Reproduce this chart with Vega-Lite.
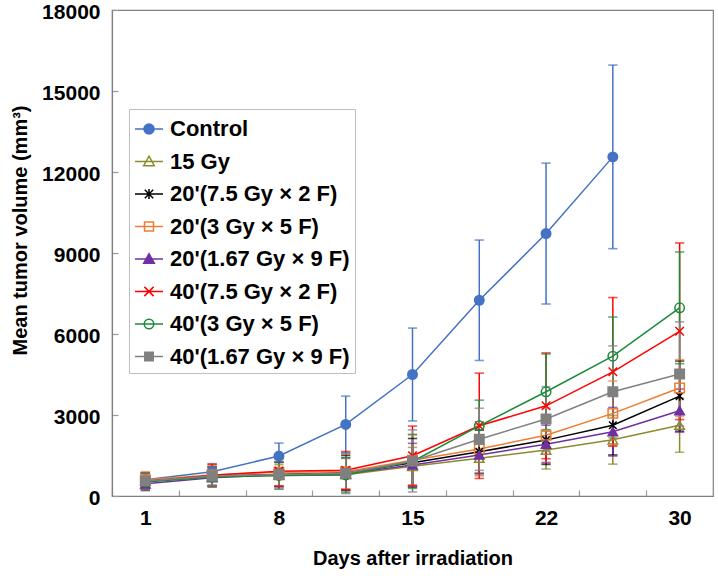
{
  "$schema": "https://vega.github.io/schema/vega-lite/v6.json",
  "width": 601,
  "height": 486,
  "autosize": {"type": "none"},
  "padding": {"left": 112, "top": 10, "right": 5, "bottom": 83},
  "background": "white",
  "config": {
    "view": {"stroke": "#808080", "strokeWidth": 1.2},
    "font": "Liberation Sans",
    "axis": {
      "domainColor": "#808080",
      "domainWidth": 1.2,
      "tickColor": "#9a9a9a",
      "tickWidth": 1.2,
      "tickSize": -6,
      "grid": false,
      "labelFont": "Liberation Sans",
      "labelFontWeight": "bold",
      "labelFontSize": 21,
      "labelColor": "#000000",
      "titleFont": "Liberation Sans",
      "titleFontWeight": "bold",
      "titleFontSize": 20,
      "titleColor": "#000000"
    },
    "legend": {
      "title": null,
      "orient": "none",
      "legendX": 17,
      "legendY": 99,
      "padding": 5,
      "rowPadding": 6.5,
      "labelOffset": 6,
      "labelFont": "Liberation Sans",
      "labelFontSize": 22,
      "labelFontWeight": "bold",
      "labelColor": "#000000",
      "labelLimit": 400,
      "symbolSize": 784,
      "symbolStrokeWidth": 1.5,
      "symbolOpacity": 1,
      "strokeColor": "#BFBFBF",
      "fillColor": "#FFFFFF"
    }
  },
  "data": {
    "values": [
      {"series": "Control", "day": "1", "v": 600, "lo": 350, "hi": 850},
      {"series": "Control", "day": "4", "v": 900, "lo": 600, "hi": 1200},
      {"series": "Control", "day": "8", "v": 1480, "lo": 1000, "hi": 1960},
      {"series": "Control", "day": "11", "v": 2650, "lo": 1600, "hi": 3700},
      {"series": "Control", "day": "15", "v": 4500, "lo": 2780, "hi": 6220},
      {"series": "Control", "day": "18", "v": 7250, "lo": 5020, "hi": 9480},
      {"series": "Control", "day": "22", "v": 9720, "lo": 7110, "hi": 12330},
      {"series": "Control", "day": "26", "v": 12560, "lo": 9160, "hi": 15960},

      {"series": "15 Gy", "day": "1", "v": 550, "lo": 250, "hi": 850},
      {"series": "15 Gy", "day": "4", "v": 720, "lo": 370, "hi": 1070},
      {"series": "15 Gy", "day": "8", "v": 760, "lo": 360, "hi": 1160},
      {"series": "15 Gy", "day": "11", "v": 790, "lo": 190, "hi": 1390},
      {"series": "15 Gy", "day": "15", "v": 1100, "lo": 400, "hi": 1800},
      {"series": "15 Gy", "day": "18", "v": 1400, "lo": 750, "hi": 2050},
      {"series": "15 Gy", "day": "22", "v": 1700, "lo": 1000, "hi": 2400},
      {"series": "15 Gy", "day": "26", "v": 2080, "lo": 1180, "hi": 2980},
      {"series": "15 Gy", "day": "30", "v": 2620, "lo": 1620, "hi": 3620},

      {"series": "20'(7.5 Gy × 2 F)", "day": "1", "v": 560, "lo": 260, "hi": 860},
      {"series": "20'(7.5 Gy × 2 F)", "day": "4", "v": 740, "lo": 390, "hi": 1090},
      {"series": "20'(7.5 Gy × 2 F)", "day": "8", "v": 800, "lo": 350, "hi": 1250},
      {"series": "20'(7.5 Gy × 2 F)", "day": "11", "v": 860, "lo": 210, "hi": 1510},
      {"series": "20'(7.5 Gy × 2 F)", "day": "15", "v": 1230, "lo": 330, "hi": 2130},
      {"series": "20'(7.5 Gy × 2 F)", "day": "18", "v": 1640, "lo": 840, "hi": 2440},
      {"series": "20'(7.5 Gy × 2 F)", "day": "22", "v": 2070, "lo": 1170, "hi": 2970},
      {"series": "20'(7.5 Gy × 2 F)", "day": "26", "v": 2620, "lo": 1520, "hi": 3720},
      {"series": "20'(7.5 Gy × 2 F)", "day": "30", "v": 3700, "lo": 2400, "hi": 5000},

      {"series": "20'(3 Gy × 5 F)", "day": "1", "v": 600, "lo": 300, "hi": 900},
      {"series": "20'(3 Gy × 5 F)", "day": "4", "v": 780, "lo": 400, "hi": 1160},
      {"series": "20'(3 Gy × 5 F)", "day": "8", "v": 880, "lo": 380, "hi": 1380},
      {"series": "20'(3 Gy × 5 F)", "day": "11", "v": 900, "lo": 250, "hi": 1550},
      {"series": "20'(3 Gy × 5 F)", "day": "15", "v": 1320, "lo": 370, "hi": 2270},
      {"series": "20'(3 Gy × 5 F)", "day": "18", "v": 1740, "lo": 840, "hi": 2640},
      {"series": "20'(3 Gy × 5 F)", "day": "22", "v": 2250, "lo": 1250, "hi": 3250},
      {"series": "20'(3 Gy × 5 F)", "day": "26", "v": 3060, "lo": 1860, "hi": 4260},
      {"series": "20'(3 Gy × 5 F)", "day": "30", "v": 4000, "lo": 2950, "hi": 5050},

      {"series": "20'(1.67 Gy × 9 F)", "day": "1", "v": 450, "lo": 200, "hi": 700},
      {"series": "20'(1.67 Gy × 9 F)", "day": "4", "v": 680, "lo": 330, "hi": 1030},
      {"series": "20'(1.67 Gy × 9 F)", "day": "8", "v": 790, "lo": 340, "hi": 1240},
      {"series": "20'(1.67 Gy × 9 F)", "day": "11", "v": 820, "lo": 220, "hi": 1420},
      {"series": "20'(1.67 Gy × 9 F)", "day": "15", "v": 1150, "lo": 350, "hi": 1950},
      {"series": "20'(1.67 Gy × 9 F)", "day": "18", "v": 1520, "lo": 820, "hi": 2220},
      {"series": "20'(1.67 Gy × 9 F)", "day": "22", "v": 1920, "lo": 1220, "hi": 2620},
      {"series": "20'(1.67 Gy × 9 F)", "day": "26", "v": 2380, "lo": 1480, "hi": 3280},
      {"series": "20'(1.67 Gy × 9 F)", "day": "30", "v": 3160, "lo": 2360, "hi": 3960},

      {"series": "40'(7.5 Gy × 2 F)", "day": "1", "v": 540, "lo": 240, "hi": 840},
      {"series": "40'(7.5 Gy × 2 F)", "day": "4", "v": 770, "lo": 370, "hi": 1170},
      {"series": "40'(7.5 Gy × 2 F)", "day": "8", "v": 920, "lo": 370, "hi": 1470},
      {"series": "40'(7.5 Gy × 2 F)", "day": "11", "v": 950, "lo": 250, "hi": 1650},
      {"series": "40'(7.5 Gy × 2 F)", "day": "15", "v": 1490, "lo": 390, "hi": 2590},
      {"series": "40'(7.5 Gy × 2 F)", "day": "18", "v": 2600, "lo": 650, "hi": 4550},
      {"series": "40'(7.5 Gy × 2 F)", "day": "22", "v": 3340, "lo": 1380, "hi": 5300},
      {"series": "40'(7.5 Gy × 2 F)", "day": "26", "v": 4600, "lo": 1850, "hi": 7350},
      {"series": "40'(7.5 Gy × 2 F)", "day": "30", "v": 6100, "lo": 2830, "hi": 9370},

      {"series": "40'(3 Gy × 5 F)", "day": "1", "v": 520, "lo": 220, "hi": 820},
      {"series": "40'(3 Gy × 5 F)", "day": "4", "v": 700, "lo": 350, "hi": 1050},
      {"series": "40'(3 Gy × 5 F)", "day": "8", "v": 760, "lo": 260, "hi": 1260},
      {"series": "40'(3 Gy × 5 F)", "day": "11", "v": 780, "lo": 130, "hi": 1430},
      {"series": "40'(3 Gy × 5 F)", "day": "15", "v": 1280, "lo": 280, "hi": 2280},
      {"series": "40'(3 Gy × 5 F)", "day": "18", "v": 2600, "lo": 1650, "hi": 3550},
      {"series": "40'(3 Gy × 5 F)", "day": "22", "v": 3860, "lo": 2460, "hi": 5260},
      {"series": "40'(3 Gy × 5 F)", "day": "26", "v": 5180, "lo": 3730, "hi": 6630},
      {"series": "40'(3 Gy × 5 F)", "day": "30", "v": 6970, "lo": 4900, "hi": 9040},

      {"series": "40'(1.67 Gy × 9 F)", "day": "1", "v": 560, "lo": 260, "hi": 860},
      {"series": "40'(1.67 Gy × 9 F)", "day": "4", "v": 740, "lo": 390, "hi": 1090},
      {"series": "40'(1.67 Gy × 9 F)", "day": "8", "v": 800, "lo": 250, "hi": 1350},
      {"series": "40'(1.67 Gy × 9 F)", "day": "11", "v": 840, "lo": 90, "hi": 1590},
      {"series": "40'(1.67 Gy × 9 F)", "day": "15", "v": 1300, "lo": 150, "hi": 2450},
      {"series": "40'(1.67 Gy × 9 F)", "day": "18", "v": 2100, "lo": 950, "hi": 3250},
      {"series": "40'(1.67 Gy × 9 F)", "day": "22", "v": 2850, "lo": 1650, "hi": 4050},
      {"series": "40'(1.67 Gy × 9 F)", "day": "26", "v": 3860, "lo": 2160, "hi": 5560},
      {"series": "40'(1.67 Gy × 9 F)", "day": "30", "v": 4520, "lo": 2590, "hi": 6450}
    ]
  },
  "encoding": {
    "x": {
      "field": "day",
      "type": "ordinal",
      "scale": {"type": "band", "domain": ["1", "4", "8", "11", "15", "18", "22", "26", "30"], "paddingInner": 0, "paddingOuter": 0},
      "axis": {
        "title": "Days after irradiation",
        "labelAngle": 0,
        "tickBand": "extent",
        "labelPadding": 17,
        "labelExpr": "indexof(['1','8','15','22','30'], datum.label) >= 0 ? datum.label : ''",
        "titlePadding": 20
      }
    }
  },
  "layer": [
    {
      "mark": {"type": "rule", "strokeWidth": 1.5},
      "encoding": {
        "y": {
          "field": "lo",
          "type": "quantitative",
          "scale": {"domain": [0, 18000], "nice": false},
          "axis": {"values": [0, 3000, 6000, 9000, 12000, 15000, 18000], "format": "d", "labelPadding": 18, "labelOffset": 2, "title": "Mean tumor volume (mm³)", "titleX": -92, "titleY": 220, "titleBaseline": "middle"}
        },
        "y2": {"field": "hi"},
        "color": {
          "field": "series",
          "type": "nominal",
          "sort": ["Control", "15 Gy", "20'(7.5 Gy × 2 F)", "20'(3 Gy × 5 F)", "20'(1.67 Gy × 9 F)", "40'(7.5 Gy × 2 F)", "40'(3 Gy × 5 F)", "40'(1.67 Gy × 9 F)"],
          "scale": {
            "range": ["#4472C4", "#8C8A2E", "#000000", "#ED7D31", "#7030A0", "#FF0000", "#1A8A3A", "#808080"]
          },
          "legend": {
            "encode": {
              "symbols": {
                "update": {
                  "shape": {"signal": "['M-1,0L1,0M0.36,0A0.36,0.36 0 1,1 -0.36,0A0.36,0.36 0 1,1 0.36,0Z','M-1,0L1,0M0,-0.38L0.38,0.3L-0.38,0.3Z','M-1,0L1,0M0,-0.36L0,0.36M-0.3,-0.3L0.3,0.3M-0.3,0.3L0.3,-0.3','M-1,0L1,0M-0.32,-0.32L0.32,-0.32L0.32,0.32L-0.32,0.32Z','M-1,0L1,0M0,-0.38L0.38,0.3L-0.38,0.3Z','M-1,0L1,0M-0.33,-0.33L0.33,0.33M-0.33,0.33L0.33,-0.33','M-1,0L1,0M0.34,0A0.34,0.34 0 1,1 -0.34,0A0.34,0.34 0 1,1 0.34,0Z','M-1,0L1,0M-0.3,-0.3L0.3,-0.3L0.3,0.3L-0.3,0.3Z'][datum.index]"},
                  "fill": {"signal": "['#4472C4','transparent','transparent','transparent','#7030A0','transparent','transparent','#808080'][datum.index]"},
                  "opacity": {"value": 1},
                  "strokeWidth": {"value": 1.5}
                }
              }
            }
          }
        }
      }
    },
    {
      "mark": {"type": "tick", "size": 8, "thickness": 0.3, "filled": false, "strokeWidth": 1.3},
      "encoding": {
        "y": {"field": "hi", "type": "quantitative", "title": "Mean tumor volume (mm³)"},
        "color": {"field": "series", "type": "nominal", "sort": ["Control", "15 Gy", "20'(7.5 Gy × 2 F)", "20'(3 Gy × 5 F)", "20'(1.67 Gy × 9 F)", "40'(7.5 Gy × 2 F)", "40'(3 Gy × 5 F)", "40'(1.67 Gy × 9 F)"]}
      }
    },
    {
      "mark": {"type": "tick", "size": 8, "thickness": 0.3, "filled": false, "strokeWidth": 1.3},
      "encoding": {
        "y": {"field": "lo", "type": "quantitative", "title": "Mean tumor volume (mm³)"},
        "color": {"field": "series", "type": "nominal", "sort": ["Control", "15 Gy", "20'(7.5 Gy × 2 F)", "20'(3 Gy × 5 F)", "20'(1.67 Gy × 9 F)", "40'(7.5 Gy × 2 F)", "40'(3 Gy × 5 F)", "40'(1.67 Gy × 9 F)"]}
      }
    },
    {
      "mark": {"type": "line", "strokeWidth": 1.5},
      "encoding": {
        "y": {"field": "v", "type": "quantitative", "title": "Mean tumor volume (mm³)"},
        "stroke": {
          "field": "series",
          "type": "nominal",
          "scale": {
            "domain": ["Control", "15 Gy", "20'(7.5 Gy × 2 F)", "20'(3 Gy × 5 F)", "20'(1.67 Gy × 9 F)", "40'(7.5 Gy × 2 F)", "40'(3 Gy × 5 F)", "40'(1.67 Gy × 9 F)"],
            "range": ["#4472C4", "#8C8A2E", "#000000", "#ED7D31", "#7030A0", "#FF0000", "#1A8A3A", "#808080"]
          },
          "legend": null
        }
      }
    },
    {
      "mark": {"type": "point", "size": 90, "strokeWidth": 1.5, "opacity": 1},
      "encoding": {
        "y": {"field": "v", "type": "quantitative", "title": "Mean tumor volume (mm³)"},
        "stroke": {"field": "series", "type": "nominal", "legend": null},
        "fill": {
          "field": "series",
          "type": "nominal",
          "scale": {
            "domain": ["Control", "15 Gy", "20'(7.5 Gy × 2 F)", "20'(3 Gy × 5 F)", "20'(1.67 Gy × 9 F)", "40'(7.5 Gy × 2 F)", "40'(3 Gy × 5 F)", "40'(1.67 Gy × 9 F)"],
            "range": ["#4472C4", "transparent", "transparent", "transparent", "#7030A0", "transparent", "transparent", "#808080"]
          },
          "legend": null
        },
        "shape": {
          "field": "series",
          "type": "nominal",
          "scale": {
            "domain": ["Control", "15 Gy", "20'(7.5 Gy × 2 F)", "20'(3 Gy × 5 F)", "20'(1.67 Gy × 9 F)", "40'(7.5 Gy × 2 F)", "40'(3 Gy × 5 F)", "40'(1.67 Gy × 9 F)"],
            "range": ["circle", "triangle-up", "M0,-1L0,1M-0.8,-0.8L0.8,0.8M-0.8,0.8L0.8,-0.8", "square", "triangle-up", "M-0.9,-0.9L0.9,0.9M-0.9,0.9L0.9,-0.9", "circle", "square"]
          },
          "legend": null
        }
      }
    }
  ]
}
